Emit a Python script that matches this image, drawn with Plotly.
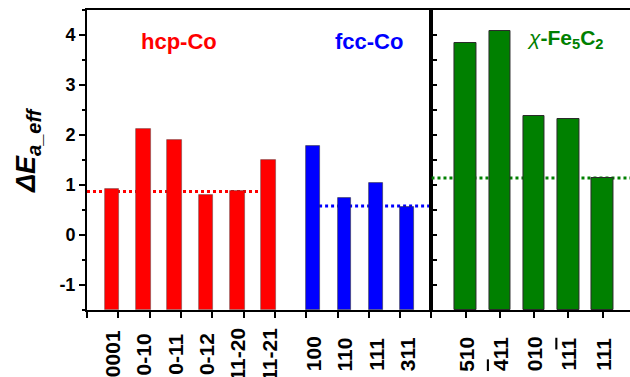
import plotly.graph_objects as go

# Facet labels and activation-energy differences (eV)
hcp_labels = ["0001", "0-10", "0-11", "0-12", "11-20", "11-21"]
hcp_values = [0.92, 2.12, 1.91, 0.81, 0.88, 1.50]
hcp_ref = 0.87

fcc_labels = ["100", "110", "111", "311"]
fcc_values = [1.78, 0.75, 1.05, 0.57]
fcc_ref = 0.58

OVER = "<span style='text-decoration:overline'>{}</span>"
fe_labels = ["510", OVER.format("4") + "11", "010", "11" + OVER.format("1"), "111"]
fe_values = [3.85, 4.09, 2.39, 2.32, 1.15]
fe_ref = 1.14

y_ticks = [-1, 0, 1, 2, 3, 4]
y_tick_text = ["-1", "0", "1", "2", "3", "4"]

RED, BLUE, GREEN = "#FF0000", "#0000FF", "#008000"
Y_MIN, Y_MAX = -1.5, 4.5
FONT = "Liberation Sans, Arial, sans-serif"

# bar positions on the left (cobalt) panel and the right (carbide) panel
hcp_x = [0.8 + i for i in range(len(hcp_labels))]
fcc_x = [7.22 + i for i in range(len(fcc_labels))]
fe_x = [1 + i for i in range(len(fe_labels))]

fig = go.Figure()

fig.add_bar(x=hcp_x, y=[v - Y_MIN for v in hcp_values], base=Y_MIN, width=0.46,
            marker=dict(color=RED, line=dict(color="rgba(70,70,70,0.55)", width=0.8)),
            xaxis="x", yaxis="y", showlegend=False)
fig.add_bar(x=fcc_x, y=[v - Y_MIN for v in fcc_values], base=Y_MIN, width=0.44,
            marker=dict(color=BLUE, line=dict(color="rgba(50,50,50,0.7)", width=0.8)),
            xaxis="x", yaxis="y", showlegend=False)
fig.add_bar(x=fe_x, y=[v - Y_MIN for v in fe_values], base=Y_MIN, width=0.63,
            marker=dict(color=GREEN, line=dict(color="#2b2b2b", width=1)),
            xaxis="x2", yaxis="y2", showlegend=False)

# dotted reference levels, kept beneath the bars
shapes = [
    dict(type="line", xref="x", yref="y", x0=0, x1=hcp_x[-1], y0=hcp_ref, y1=hcp_ref,
         line=dict(color=RED, width=3, dash="dot"), layer="below"),
    dict(type="line", xref="x", yref="y", x0=fcc_x[0], x1=11, y0=fcc_ref, y1=fcc_ref,
         line=dict(color=BLUE, width=3, dash="dot"), layer="below"),
    dict(type="line", xref="x2", yref="y2", x0=0, x1=5.8, y0=fe_ref, y1=fe_ref,
         line=dict(color=GREEN, width=3, dash="dot"), layer="below"),
]

annotations = []
# rotated facet labels under each bar
for xs, labels, ax in ((hcp_x, hcp_labels, "x"), (fcc_x, fcc_labels, "x"), (fe_x, fe_labels, "x2")):
    for xv, lab in zip(xs, labels):
        annotations.append(dict(x=xv, y=-0.147, xref=ax, yref="paper", text="<b>" + lab + "</b>",
                                textangle=-90, showarrow=False, xanchor="center",
                                yanchor="middle",
                                font=dict(family=FONT, size=21, color="black")))

# group titles
annotations += [
    dict(x=2.94, y=3.88, xref="x", yref="y", text="<b>hcp-Co</b>", showarrow=False,
         font=dict(family=FONT, size=22, color=RED)),
    dict(x=9.02, y=3.88, xref="x", yref="y", text="<b>fcc-Co</b>", showarrow=False,
         font=dict(family=FONT, size=22, color=BLUE)),
    dict(x=3.9, y=3.93, xref="x2", yref="y2",
         text="<i>\u03c7</i><b>-Fe<sub>5</sub>C<sub>2</sub></b>",
         showarrow=False, font=dict(family=FONT, size=21, color=GREEN)),
    dict(x=-0.1087, y=0.533, xref="paper", yref="paper", textangle=-90, showarrow=False,
         xanchor="center", yanchor="middle",
         text="<b><i>\u0394E</i></b><sub><b><i><span style='font-size:20px'>a_eff</span></i></b></sub>",
         font=dict(family=FONT, size=27, color="black")),
]

axis_line = dict(showline=True, linecolor="black", linewidth=2, showgrid=False,
                 zeroline=False, tickcolor="black", tickwidth=2)

fig.update_layout(
    width=630, height=377,
    margin=dict(l=87, r=0, t=10, b=67),
    paper_bgcolor="white", plot_bgcolor="white",
    bargap=0, barmode="overlay",
    xaxis=dict(domain=[0, 0.6344], range=[0, 11], tickvals=list(range(12)),
               ticks="outside", ticklen=6, showticklabels=False, mirror=True,
               anchor="y", **axis_line),
    yaxis=dict(domain=[0, 1], range=[Y_MIN, Y_MAX], tickvals=y_ticks, ticktext=y_tick_text,
               ticks="outside", ticklen=6, mirror=True, anchor="x",
               minor=dict(dtick=0.5, tick0=0, ticks="outside", ticklen=3.5,
                          tickwidth=2, tickcolor="black"),
               tickfont=dict(family=FONT, size=18, color="black", weight="bold"),
               **axis_line),
    xaxis2=dict(domain=[0.6344, 1], range=[0, 5.8], tickvals=list(range(6)),
                ticks="outside", ticklen=6, showticklabels=False, mirror=True,
                anchor="y2", **axis_line),
    yaxis2=dict(domain=[0, 1], range=[Y_MIN, Y_MAX], dtick=0.5, tick0=0,
                ticks="inside", ticklen=6, showticklabels=False, mirror=False,
                anchor="x2", **axis_line),
    shapes=shapes,
    annotations=annotations,
)

fig.write_html("out.html")
